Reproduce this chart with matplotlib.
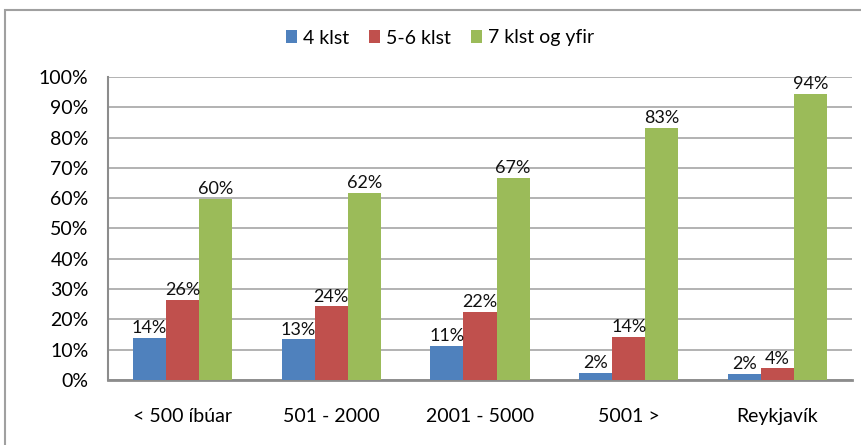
import matplotlib
matplotlib.use("Agg")
import matplotlib.pyplot as plt
import numpy as np
from matplotlib.patches import Rectangle

categories = ["< 500 íbúar", "501 - 2000", "2001 - 5000", "5001 >", "Reykjavík"]
series_names = ["4 klst", "5-6 klst", "7 klst og yfir"]
blue = [13.9, 13.4, 11.2, 2.3, 1.9]
red = [26.3, 24.3, 22.4, 14.3, 3.8]
green = [59.7, 61.8, 66.7, 83.2, 94.3]
colors = ["#4f81bd", "#c0504d", "#9bbb59"]
yticks = [0, 10, 20, 30, 40, 50, 60, 70, 80, 90, 100]

plt.rcParams['font.family'] = ['Lato', 'DejaVu Sans']

fig = plt.figure(figsize=(8.62, 4.45), dpi=100)
ax = fig.add_axes([108/862, 65/445, (852-108)/862, (380-77)/445])

x = np.arange(len(categories))
w = 0.222
for i, (vals, c, name) in enumerate(zip([blue, red, green], colors, series_names)):
    pos = x + (i - 1) * w
    ax.bar(pos, vals, width=w, color=c, label=name, zorder=3)
    for p, v in zip(pos, vals):
        ax.text(p, v + 0.6, f"{round(v):d}%", ha="center", va="bottom", fontsize=13, color="#111111", zorder=4)

ax.set_xlim(-0.5, len(categories) - 0.5)
ax.set_ylim(0, 100)
ax.set_yticks(yticks)
ax.set_yticklabels([f"{t}%" for t in yticks], fontsize=14)
ax.set_xticks(x)
ax.set_xticklabels(categories, fontsize=14)
ax.tick_params(axis="x", length=0, pad=20)
ax.tick_params(axis="y", length=0, pad=14)
ax.grid(axis="y", color="#a6a6a6", linewidth=1.2, zorder=0)
for s in ["top", "right"]:
    ax.spines[s].set_visible(False)
ax.spines["left"].set_color("#8c8c8c")
ax.spines["left"].set_linewidth(1.5)
ax.spines["bottom"].set_color("#8c8c8c")
ax.spines["bottom"].set_linewidth(2.0)

fig.legend(loc="center", bbox_to_anchor=(440/862, 1 - 38/445), ncol=3, frameon=False,
           fontsize=14, handlelength=0.6, handleheight=0.6, handletextpad=0.3, columnspacing=1.0)

fig.patches.append(Rectangle((5/862, -0.1), 1.2, 1.1 - 10/445 + 0.0, transform=fig.transFigure,
                             fill=False, edgecolor="#a0a0a0", linewidth=1.5))

fig.savefig("out.png", dpi=100)
